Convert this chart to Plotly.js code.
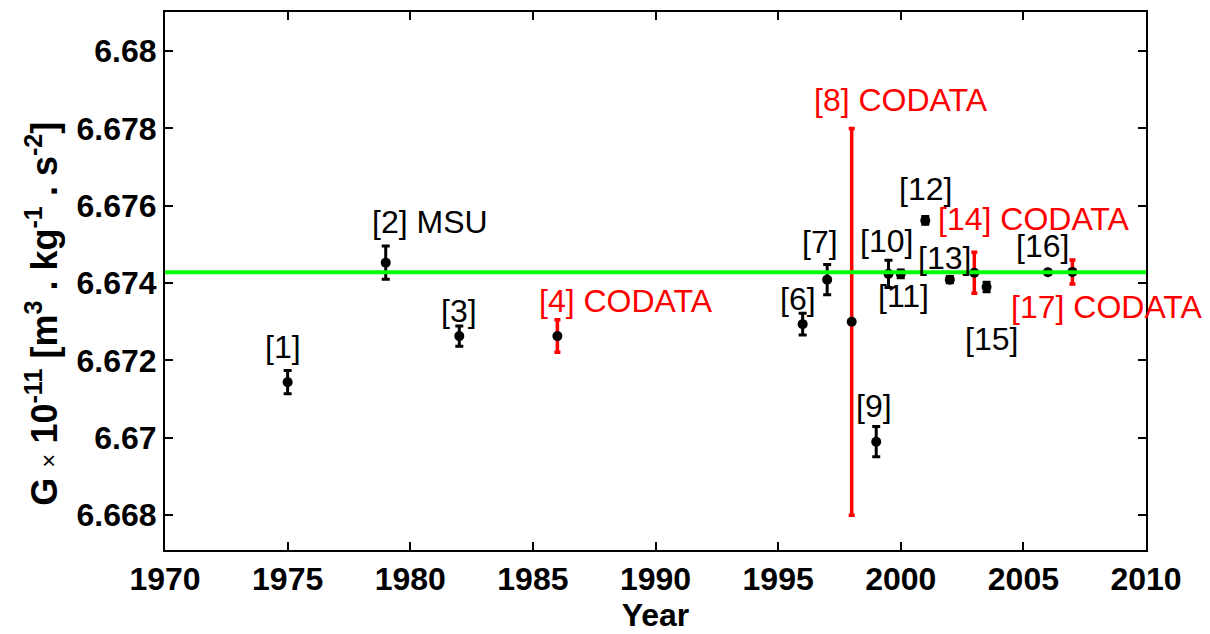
<!DOCTYPE html>
<html>
<head>
<meta charset="utf-8">
<script src="https://cdn.plot.ly/plotly-3.0.1.min.js"></script>
<style>html,body{margin:0;padding:0;background:#fff;}#chart{width:1210px;height:634px;}</style>
</head>
<body>
<div id="chart"></div>
<script>
// Measurements of G (black)
const measYears = [1975, 1979, 1982, 1996, 1997, 1999, 1999.5, 2000, 2001, 2002, 2003.5, 2006];
const measG     = [6.67144, 6.67453, 6.67263, 6.67294, 6.67409, 6.66990, 6.67424, 6.67424, 6.67562, 6.67409, 6.67390, 6.67428];
const measErr   = [0.00030, 0.00043, 0.00026, 0.00028, 0.00039, 0.00039, 0.00035, 0.00010, 0.00010, 0.00008, 0.00012, 0.00005];

// CODATA recommended values (red)
const codataYears = [1986, 1998, 2003, 2007];
const codataG     = [6.67263, 6.67300, 6.67427, 6.67429];
const codataErr   = [0.00042, 0.00500, 0.00053, 0.00031];

// Reference line (CODATA 2006)
const refYears = [1970, 2010];
const refG     = [6.67428, 6.67428];

// Point labels
const labelText  = ["[1]", "[2] MSU", "[3]", "[4] CODATA", "[6]", "[7]", "[8] CODATA", "[9]", "[10]", "[11]", "[12]", "[13]", "[14] CODATA", "[15]", "[16]", "[17] CODATA"];
const labelX     = [1974.8, 1980.8, 1982.0, 1988.8, 1995.8, 1996.7, 2000.0, 1998.9, 1999.4, 2000.1, 2001.0, 2001.8, 2005.45, 2003.7, 2005.8, 2008.4];
const labelY     = [6.67235, 6.67557, 6.67328, 6.67354, 6.67359, 6.67507, 6.67873, 6.67083, 6.67510, 6.67367, 6.67644, 6.67466, 6.67566, 6.67256, 6.67495, 6.67338];
const labelIsCodata = [false, false, false, true, false, false, true, false, false, false, false, false, true, false, false, true];

// Axis ticks
const xTicks = [1970, 1975, 1980, 1985, 1990, 1995, 2000, 2005, 2010];
const yTicks = [6.668, 6.670, 6.672, 6.674, 6.676, 6.678, 6.680];
const yTickText = ["6.668", "6.67", "6.672", "6.674", "6.676", "6.678", "6.68"];

const FONT = "Liberation Sans, Arial, sans-serif";

const traces = [
  {
    x: codataYears, y: codataG, type: 'scatter', mode: 'markers',
    marker: {color: '#000000', size: 10, symbol: 'circle'},
    error_y: {type: 'data', array: codataErr, visible: true, color: '#ff0000', thickness: 3.5, width: 3},
    hoverinfo: 'x+y', showlegend: false
  },
  {
    x: measYears, y: measG, type: 'scatter', mode: 'markers',
    marker: {color: '#000000', size: 10, symbol: 'circle'},
    error_y: {type: 'data', array: measErr, visible: true, color: '#000000', thickness: 3, width: 4},
    hoverinfo: 'x+y', showlegend: false
  },
  {
    x: refYears, y: refG, type: 'scatter', mode: 'lines',
    line: {color: '#00ff00', width: 4},
    hoverinfo: 'skip', showlegend: false
  }
];

const annotations = labelText.map((t, i) => ({
  x: labelX[i], y: labelY[i], xref: 'x', yref: 'y',
  text: t, showarrow: false, borderpad: 0,
  xanchor: 'center', yanchor: 'middle',
  font: {family: FONT, size: 32, color: labelIsCodata[i] ? '#ff0000' : '#000000'}
}));

annotations.push({
  xref: 'paper', yref: 'paper',
  x: -0.125, y: 0.44,
  xanchor: 'center', yanchor: 'middle',
  textangle: -90, showarrow: false,
  text: "G <span style='font-weight:normal;font-size:24px'>×</span> 10<sup>-11</sup> [m<sup>3</sup> . kg<sup>-1</sup> . s<sup>-2</sup>]",
  font: {family: FONT, size: 36, color: '#000000', weight: 'bold'}
});

const layout = {
  width: 1210, height: 634,
  margin: {l: 165, r: 64, t: 12, b: 84, pad: 0},
  paper_bgcolor: '#ffffff', plot_bgcolor: '#ffffff',
  showlegend: false,
  font: {family: FONT, color: '#000000'},
  xaxis: {
    range: [1970, 2010],
    tickmode: 'array', tickvals: xTicks, ticktext: xTicks.map(String),
    ticks: 'inside', ticklen: 8, tickwidth: 2, tickcolor: '#000000',
    showline: true, linecolor: '#000000', linewidth: 2, mirror: 'ticks',
    showgrid: false, zeroline: false,
    tickfont: {family: FONT, size: 32, color: '#000000', weight: 'bold'},
    title: {text: 'Year', font: {family: FONT, size: 32, color: '#000000', weight: 'bold'}, standoff: 2}
  },
  yaxis: {
    range: [6.66710, 6.68101],
    tickmode: 'array', tickvals: yTicks, ticktext: yTickText,
    ticks: 'inside', ticklen: 8, tickwidth: 2, tickcolor: '#000000',
    showline: true, linecolor: '#000000', linewidth: 2, mirror: 'ticks',
    showgrid: false, zeroline: false,
    tickfont: {family: FONT, size: 32, color: '#000000', weight: 'bold'}
  },
  annotations: annotations
};

Plotly.newPlot('chart', traces, layout, {displayModeBar: false, staticPlot: true});
</script>
</body>
</html>
